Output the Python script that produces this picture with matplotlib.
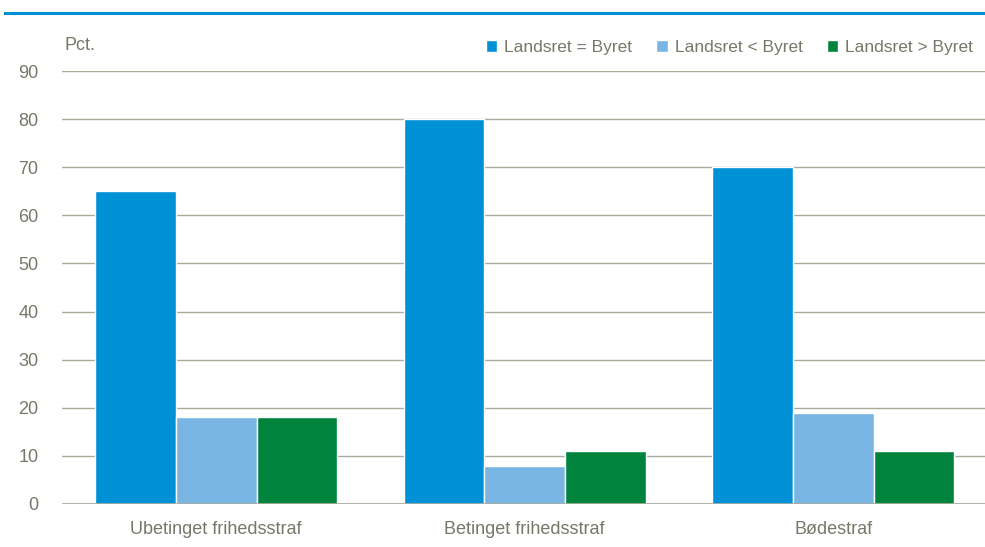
import matplotlib
matplotlib.use("Agg")
import matplotlib.pyplot as plt
import numpy as np
from matplotlib import font_manager

categories = ["Ubetinget frihedsstraf", "Betinget frihedsstraf", "Bødestraf"]
series_names = ["Landsret = Byret", "Landsret < Byret", "Landsret > Byret"]
equal_vals = [65, 80, 70]
lower_vals = [18, 8, 19]
higher_vals = [18, 11, 11]
yticks = [0, 10, 20, 30, 40, 50, 60, 70, 80, 90]

colors = ["#0090d6", "#78b5e3", "#00843d"]
text_col = "#77776a"
grid_col = "#aaaa9c"

names = {f.name for f in font_manager.fontManager.ttflist}
fam = "Liberation Sans Narrow" if "Liberation Sans Narrow" in names else "Liberation Sans"
plt.rcParams['font.family'] = [fam, 'DejaVu Sans']

W, H = 985, 547
fig = plt.figure(figsize=(W/100, H/100), dpi=100)
ax = fig.add_axes([62/W, 1-504/H, (987.5-62)/W, (504-71)/H])

x = np.arange(len(categories))
w = 0.262
for i, vals in enumerate([equal_vals, lower_vals, higher_vals]):
    ax.bar(x + (i-1)*w, vals, width=w, color=colors[i], edgecolor="white",
           linewidth=1, label=series_names[i], zorder=3)

ax.set_xlim(-0.5, 2.5)
ax.set_ylim(0, 90)
ax.set_yticks(yticks)
ax.set_xticks(x)
ax.set_xticklabels(categories)
ax.yaxis.grid(True, color=grid_col, linewidth=1)
ax.set_axisbelow(True)
for s in ax.spines.values():
    s.set_visible(False)
ax.tick_params(axis='both', length=0, labelsize=13, colors=text_col)
ax.tick_params(axis='y', pad=17)
ax.tick_params(axis='x', pad=12)
ax.axhline(0, color=grid_col, linewidth=1.2, zorder=4)

fig.text(64/W, 1-45/H, "Pct.", ha='left', va='center', fontsize=13, color=text_col)

leg = fig.legend(*ax.get_legend_handles_labels(), loc='upper right',
                 bbox_to_anchor=(973/W, 1-40/H), ncol=3, frameon=False,
                 fontsize=12.5, handlelength=0.65, handleheight=0.65, handletextpad=0.4,
                 columnspacing=1.4, labelcolor=text_col, borderaxespad=0, borderpad=0)

fig.add_artist(plt.Line2D([5/W, 1.0], [1-13/H, 1-13/H], color="#0090d6",
                          linewidth=2.2, transform=fig.transFigure))

fig.savefig("out.png", dpi=100)
